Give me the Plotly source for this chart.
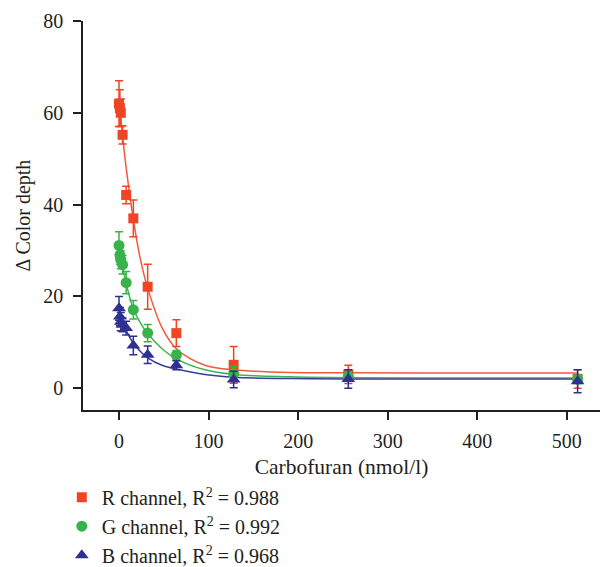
import plotly.graph_objects as go

# ---- data ----
conc = [0, 1, 2, 4, 8, 16, 32, 64, 128, 256, 512]

r_vals = [62.0, 61.0, 60.0, 55.2, 42.1, 37.0, 22.1, 12.0, 5.1, 3.0, 2.0]
r_err = [5.0, 4.0, 3.0, 2.0, 1.9, 4.0, 4.9, 2.9, 4.0, 2.0, 2.0]

g_vals = [31.1, 29.0, 28.0, 26.9, 23.0, 17.1, 12.0, 7.2, 3.2, 2.5, 2.0]
g_err = [3.0, 2.0, 2.0, 2.0, 2.4, 2.0, 1.9, 1.0, 1.5, 1.0, 1.0]

b_vals = [17.4, 15.6, 14.5, 13.8, 13.1, 9.3, 7.3, 5.0, 1.9, 2.0, 1.5]
b_err = [2.6, 2.0, 2.0, 1.5, 1.5, 2.0, 1.9, 1.0, 1.8, 2.0, 2.5]

# fitted curves
fit_x = [0, 4, 8, 16, 24, 32, 48, 64, 96, 128, 192, 256, 384, 512]
r_fit = [62.5, 55.0, 48.0, 36.8, 28.0, 21.8, 13.2, 8.6, 5.0, 4.0, 3.4, 3.35, 3.3, 3.3]
g_fit = [31.0, 26.5, 22.8, 17.3, 14.2, 11.9, 8.6, 6.4, 4.0, 3.0, 2.5, 2.3, 2.2, 2.2]
b_fit = [17.5, 14.6, 12.6, 9.8, 8.0, 6.6, 5.0, 4.2, 3.0, 2.4, 2.1, 2.0, 2.0, 2.0]

names = ["R channel, R<sup>2</sup> = 0.988",
         "G channel, R<sup>2</sup> = 0.992",
         "B channel, R<sup>2</sup> = 0.968"]

x_ticks = [0, 100, 200, 300, 400, 500]
y_ticks = [0, 20, 40, 60, 80]

# ---- styles ----
red = "#EF4524"
green = "#38B349"
blue = "#2E3192"
line_red = "#F25A3C"
line_green = "#3DB54E"
line_blue = "#3A3D98"
txt = "#231F20"
FONT = "Liberation Serif, Times New Roman, serif"

fig = go.Figure()

for fy, col in [(r_fit, line_red), (g_fit, line_green), (b_fit, line_blue)]:
    fig.add_trace(go.Scatter(x=fit_x, y=fy, mode="lines", showlegend=False,
                             line=dict(color=col, width=1.5, shape="spline", smoothing=1.0),
                             hoverinfo="skip"))

series = [
    (r_vals, r_err, red, "square", 10, names[0]),
    (g_vals, g_err, green, "circle", 11, names[1]),
    (b_vals, b_err, blue, "triangle-up", 12, names[2]),
]
for i, (vals, err, col, sym, sz, nm) in enumerate(series):
    fig.add_trace(go.Scatter(
        x=conc, y=vals, mode="markers", name=nm, legendgroup=str(i),
        marker=dict(color=col, symbol=sym, size=sz, line=dict(width=0)),
        error_y=dict(type="data", array=err, visible=True, color=col,
                     thickness=1.5, width=4),
    ))

fig.update_layout(
    width=600, height=567,
    margin=dict(l=83, r=0, t=21, b=157, autoexpand=False),
    paper_bgcolor="white", plot_bgcolor="white",
    font=dict(family=FONT, size=20, color=txt),
    showlegend=True,
    legend=dict(x=-0.041, y=-0.174, xanchor="left", yanchor="top",
                traceorder="grouped", tracegroupgap=0,
                font=dict(family=FONT, size=20, color=txt),
                bgcolor="rgba(0,0,0,0)", itemwidth=30),
)
fig.update_xaxes(
    range=[-40.2, 537], tickvals=x_ticks, ticktext=[str(v) for v in x_ticks],
    showgrid=False, zeroline=False, showline=True, linecolor=txt, linewidth=1.5,
    ticks="outside", ticklen=8, tickwidth=1.5, tickcolor=txt, ticklabelstandoff=4,
    title=dict(text="Carbofuran (nmol/l)", standoff=8, font=dict(size=21.5)),
    tickfont=dict(size=20),
)
fig.update_yaxes(
    range=[-4.75, 80], tickvals=y_ticks, ticktext=[str(v) for v in y_ticks],
    showgrid=False, zeroline=False, showline=True, linecolor=txt, linewidth=1.5,
    ticks="outside", ticklen=8, tickwidth=1.5, tickcolor=txt, ticklabelstandoff=6,
    title=dict(text="Δ Color depth", standoff=7, font=dict(size=20)),
    tickfont=dict(size=20),
)

fig.write_html("out.html")
